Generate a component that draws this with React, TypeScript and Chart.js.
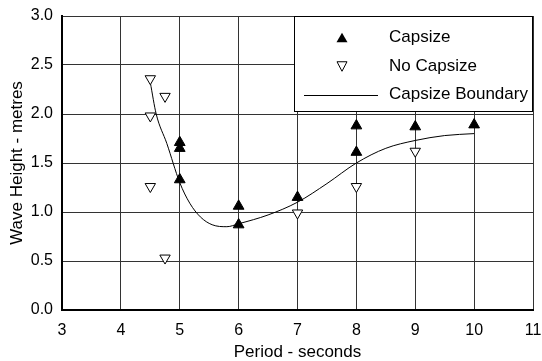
import React, { useEffect, useRef } from 'react';
import { Chart, registerables } from 'chart.js';

Chart.register(...registerables);

const capsizePeriod = [5, 5, 5, 6, 6, 7, 8, 8, 9, 10];
const capsizeHeight = [1.71, 1.65, 1.33, 1.06, 0.87, 1.15, 1.88, 1.61, 1.87, 1.89];

const noCapsizePeriod = [4.5, 4.75, 4.5, 4.5, 4.75, 7, 8, 9];
const noCapsizeHeight = [2.36, 2.18, 1.98, 1.26, 0.53, 0.99, 1.26, 1.62];

const boundaryPeriod = [4.5, 4.6, 4.78, 5.0, 5.17, 5.35, 5.55, 5.8, 6.0, 6.5, 7.0, 7.5, 8.0, 8.5, 9.0, 9.5, 10.0];
const boundaryHeight = [2.32, 2.0, 1.7, 1.3, 1.09, 0.95, 0.87, 0.85, 0.88, 0.97, 1.1, 1.29, 1.5, 1.65, 1.73, 1.78, 1.8];

const xTickValues = [3, 4, 5, 6, 7, 8, 9, 10, 11];
const yTickValues = [0, 0.5, 1, 1.5, 2, 2.5, 3];

const seriesLabels = ['Capsize', 'No Capsize', 'Capsize Boundary'];
const xTitle = 'Period - seconds';
const yTitle = 'Wave Height - metres';

const FONT = "'Liberation Sans', Arial, sans-serif";

const toPoints = (xs: number[], ys: number[]) => xs.map((x, i) => ({ x, y: ys[i] }));

function triangle(ctx: CanvasRenderingContext2D, cx: number, cy: number, w: number, h: number, up: boolean, filled: boolean) {
  ctx.beginPath();
  if (up) {
    ctx.moveTo(cx, cy - h / 2);
    ctx.lineTo(cx + w / 2, cy + h / 2);
    ctx.lineTo(cx - w / 2, cy + h / 2);
  } else {
    ctx.moveTo(cx, cy + h / 2);
    ctx.lineTo(cx + w / 2, cy - h / 2);
    ctx.lineTo(cx - w / 2, cy - h / 2);
  }
  ctx.closePath();
  if (filled) {
    ctx.fillStyle = '#000';
    ctx.fill();
  } else {
    ctx.fillStyle = '#fff';
    ctx.fill();
    ctx.strokeStyle = '#000';
    ctx.lineWidth = 1;
    ctx.stroke();
  }
}

const boxLegend = {
  id: 'boxLegend',
  afterDraw(chart: any) {
    const { ctx, chartArea } = chart;
    const w = 239;
    const h = 96;
    const x0 = chartArea.right - w;
    const y0 = chartArea.top;
    ctx.save();
    ctx.fillStyle = '#fff';
    ctx.fillRect(x0, y0, w, h);
    ctx.strokeStyle = '#000';
    ctx.lineWidth = 1;
    ctx.strokeRect(Math.round(x0) + 0.5, Math.round(y0) + 0.5, w - 1, h - 1);
    const rows = [21.5, 50.5, 78.5];
    const mx = x0 + 48;
    const tx = x0 + 95;
    triangle(ctx, mx, y0 + rows[0], 11, 9.5, true, true);
    triangle(ctx, mx, y0 + rows[1], 10, 9.5, false, false);
    ctx.beginPath();
    ctx.moveTo(x0 + 10, Math.round(y0 + rows[2]) + 0.5);
    ctx.lineTo(x0 + 84, Math.round(y0 + rows[2]) + 0.5);
    ctx.strokeStyle = '#000';
    ctx.lineWidth = 1;
    ctx.stroke();
    ctx.fillStyle = '#000';
    ctx.font = `17px ${FONT}`;
    ctx.textBaseline = 'middle';
    ctx.textAlign = 'left';
    seriesLabels.forEach((t, i) => ctx.fillText(t, tx, y0 + rows[i]));
    ctx.restore();
  },
};

export default function App() {
  const ref = useRef<HTMLCanvasElement>(null);
  useEffect(() => {
    const chart = new Chart(ref.current!, {
      type: 'scatter',
      data: {
        datasets: [
          {
            label: seriesLabels[0],
            data: toPoints(capsizePeriod, capsizeHeight),
            pointStyle: 'triangle',
            pointRadius: 6.2,
            backgroundColor: '#000',
            borderColor: '#000',
            borderWidth: 1,
            showLine: false,
            order: 1,
          },
          {
            label: seriesLabels[1],
            data: toPoints(noCapsizePeriod, noCapsizeHeight),
            pointStyle: 'triangle',
            rotation: 180,
            pointRadius: 6,
            backgroundColor: '#fff',
            borderColor: '#000',
            borderWidth: 1,
            showLine: false,
            order: 2,
          },
          {
            label: seriesLabels[2],
            data: toPoints(boundaryPeriod, boundaryHeight),
            showLine: true,
            pointRadius: 0,
            borderColor: '#000',
            borderWidth: 1,
            cubicInterpolationMode: 'monotone',
            order: 3,
          } as any,
        ],
      },
      options: {
        responsive: false,
        animation: false,
        layout: { padding: { top: 16, right: 9, left: 0, bottom: 0 } },
        plugins: {
          legend: { display: false },
          tooltip: { enabled: false },
        },
        scales: {
          x: {
            type: 'linear',
            min: 3,
            max: 11,
            afterFit: (s: any) => {
              s.height = 51;
              s.paddingLeft = 0;
              s.paddingRight = 0;
            },
            afterBuildTicks: (s: any) => { s.ticks = xTickValues.map((v) => ({ value: v })); },
            ticks: {
              color: '#000',
              font: { family: FONT, size: 16 },
              padding: 11,
              callback: (v: any) => String(v),
            },
            grid: { color: '#333', lineWidth: 1, drawTicks: false },
            border: { display: true, color: '#000', width: 2 },
            title: {
              display: true,
              text: xTitle,
              color: '#000',
              font: { family: FONT, size: 17, lineHeight: 1 },
              padding: { top: 0, bottom: 0 },
            },
          },
          y: {
            type: 'linear',
            min: 0,
            max: 3,
            afterFit: (s: any) => {
              s.width = 62;
              s.paddingTop = 0;
              s.paddingBottom = 0;
            },
            afterBuildTicks: (s: any) => { s.ticks = yTickValues.map((v) => ({ value: v })); },
            ticks: {
              color: '#000',
              font: { family: FONT, size: 16 },
              padding: 9,
              callback: (v: any) => Number(v).toFixed(1),
            },
            grid: { color: '#333', lineWidth: 1, drawTicks: false },
            border: { display: true, color: '#000', width: 2 },
            title: {
              display: true,
              text: yTitle,
              color: '#000',
              font: { family: FONT, size: 17, lineHeight: 1 },
              padding: { top: 8.5, bottom: 0 },
            },
          },
        },
      },
      plugins: [boxLegend],
    });
    return () => chart.destroy();
  }, []);
  return (
    <div style={{ position: 'absolute', left: 0, top: 0, width: 542, height: 361, background: '#fff' }}>
      <canvas ref={ref} width={542} height={361} style={{ display: 'block' }} />
    </div>
  );
}
